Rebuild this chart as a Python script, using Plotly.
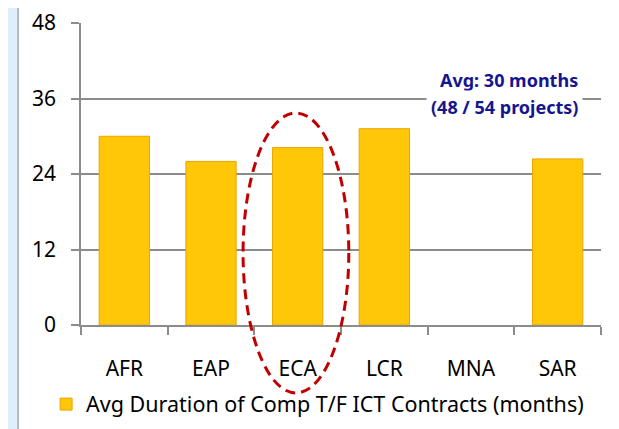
import plotly.graph_objects as go

regions = ["AFR", "EAP", "ECA", "LCR", "MNA", "SAR"]
avg_months = [30, 26, 28.2, 31.2, None, 26.4]
y_ticks = [0, 12, 24, 36, 48]
series_name = "Avg Duration of Comp T/F ICT Contracts (months)"
note_lines = ["Avg: 30 months", "(48 / 54 projects)"]

font_family = "Noto Sans, Open Sans, sans-serif"
grid_grey = "#8C8C8C"

fig = go.Figure()

fig.add_trace(go.Bar(
    x=regions,
    y=avg_months,
    name=series_name,
    width=0.58,
    marker=dict(color="#FFC708", line=dict(color="#E8A600", width=1)),
    showlegend=True,
))

# white slide panel behind the chart
fig.add_shape(type="rect", xref="paper", yref="paper",
              x0=-0.121, x1=1.029, y0=-0.45, y1=1.056,
              fillcolor="white", line=dict(color="#A6A6A6", width=1.5),
              layer="below")

# red dashed ellipse around ECA
fig.add_shape(type="circle", xref="x", yref="paper",
              x0=1.37, x1=2.59, y0=-0.225, y1=0.702,
              line=dict(color="#C00000", width=3, dash="10px,6px"),
              layer="above")

# two-line note, white box hides the 36 gridline behind it
for text, ypos in zip(note_lines, [0.811, 0.722]):
    fig.add_annotation(
        text=text, xref="paper", yref="paper",
        x=0.966, y=ypos, xanchor="right", yanchor="middle",
        align="right", showarrow=False, bgcolor="white", borderpad=4,
        font=dict(family=font_family, size=18, color="#15158F", weight="bold"),
    )

# page body adds an 8px margin, so the figure is 8px smaller than the window
fig.update_layout(
    width=611,
    height=421,
    margin=dict(l=73, r=18, t=15, b=104, autoexpand=False),
    paper_bgcolor="#DCEFFA",
    plot_bgcolor="white",
    font=dict(family=font_family, size=21, color="black"),
    bargap=0.42,
    legend=dict(orientation="h", x=0.455, xanchor="center", y=-0.262,
                yanchor="middle", font=dict(size=21.5),
                bgcolor="rgba(0,0,0,0)", itemwidth=30),
)

fig.update_xaxes(
    type="category", automargin=False,
    showline=True, linecolor=grid_grey, linewidth=1.5,
    ticks="outside", tickson="boundaries", ticklen=8, tickcolor=grid_grey,
    tickwidth=1.5, ticklabelstandoff=24,
    showgrid=False,
)

fig.update_yaxes(
    range=[0, 48], tickvals=y_ticks, automargin=False,
    showline=True, linecolor=grid_grey, linewidth=1.5,
    showgrid=True, gridcolor=grid_grey, gridwidth=1.5,
    ticks="outside", ticklen=8, tickcolor=grid_grey, tickwidth=1.5,
    ticklabelstandoff=11, zeroline=False,
)

fig.write_html("out.html")
